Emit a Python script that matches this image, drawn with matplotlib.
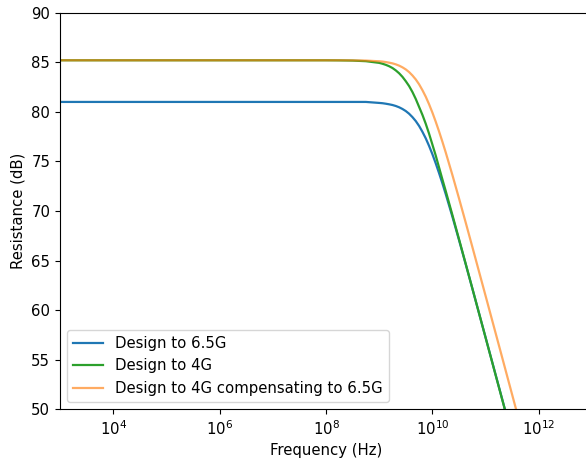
import numpy as np
import matplotlib
matplotlib.use("Agg")
import matplotlib.pyplot as plt
from matplotlib.ticker import NullLocator

plt.rcParams['font.size'] = 10.7

# frequency grid (log10 Hz) and read-off curves (dB)
log_freq = [3, 4, 5, 6, 7, 7.5, 8, 8.25, 8.5, 8.75, 9, 9.0625, 9.125, 9.1875,
            9.25, 9.3125, 9.375, 9.4375, 9.5, 9.5625, 9.625, 9.6875, 9.75,
            9.8125, 9.875, 9.9375, 10, 10.0625, 10.125, 10.1875, 10.25, 10.375,
            10.5, 10.625, 10.75, 11, 11.25, 11.5, 11.75, 12, 12.5, 13]
design_65g = [81.0, 81.0, 81.0, 81.0, 81.0, 81.0, 81.0, 81.0, 81.0, 81.0,
              80.9, 80.87, 80.82, 80.76, 80.69, 80.59, 80.46, 80.29, 80.08,
              79.81, 79.47, 79.07, 78.58, 77.99, 77.33, 76.57, 75.73, 74.81,
              73.83, 72.8, 71.72, 69.45, 67.08, 64.66, 62.2, 57.24, 52.26,
              47.26, 42.26, 37.26, 27.26, 17.26]
design_4g = [85.2, 85.2, 85.2, 85.2, 85.2, 85.2, 85.2, 85.19, 85.17, 85.11,
             84.94, 84.85, 84.74, 84.6, 84.42, 84.18, 83.89, 83.53, 83.09,
             82.6, 82.0, 81.3, 80.5, 79.7, 78.8, 77.8, 76.7, 75.6, 74.4,
             73.2, 72.03, 69.62, 67.17, 64.7, 62.22, 57.23, 52.23, 47.24,
             42.24, 37.24, 27.24, 17.24]
design_4g_comp = [85.2, 85.2, 85.2, 85.2, 85.2, 85.2, 85.2, 85.2, 85.19, 85.17,
                  85.1, 85.07, 85.02, 84.96, 84.89, 84.79, 84.66, 84.49, 84.28,
                  84.01, 83.67, 83.27, 82.78, 82.19, 81.53, 80.77, 79.93, 79.01,
                  78.03, 77.0, 75.92, 73.65, 71.28, 68.86, 66.4, 61.44, 56.46,
                  51.46, 46.46, 41.46, 31.46, 21.46]

freq = 10.0 ** np.array(log_freq)

fig = plt.figure(figsize=(5.86, 4.62), dpi=100)
ax = fig.add_axes([0.1024, 0.1141, 0.9078, 0.8584])
ax.semilogx(freq, design_65g, color='tab:blue', lw=1.6, label='Design to 6.5G')
ax.semilogx(freq, design_4g, color='tab:green', lw=1.6, label='Design to 4G')
ax.semilogx(freq, design_4g_comp, color='tab:orange', alpha=0.65, lw=1.6,
            label='Design to 4G compensating to 6.5G')
ax.set_xlim(1e3, 1e13)
ax.set_ylim(50, 90)
ax.set_xticks([1e4, 1e6, 1e8, 1e10, 1e12])
ax.xaxis.set_minor_locator(NullLocator())
ax.set_xlabel('Frequency (Hz)')
ax.set_ylabel('Resistance (dB)')
ax.legend(loc='lower left')
fig.savefig('out.png', dpi=100)
